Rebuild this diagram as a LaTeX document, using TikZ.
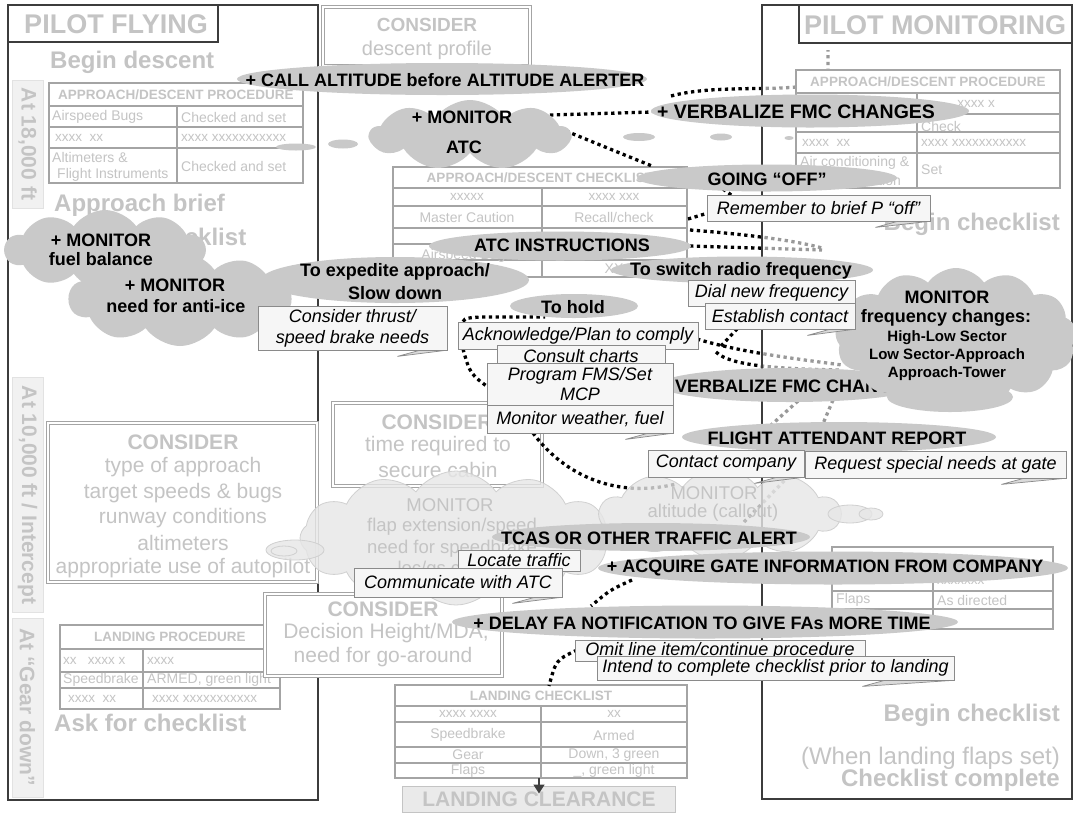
\documentclass[tikz,border=0pt]{standalone}
\usepackage{fontspec}
\setmainfont{Liberation Sans}
\usetikzlibrary{shapes.geometric,shapes.symbols,arrows.meta}
\definecolor{fadec}{HTML}{C4C4C4}
\definecolor{tline}{HTML}{A4A4A4}
\definecolor{bubc}{HTML}{C9C9C9}
\definecolor{notef}{HTML}{F6F6F6}
\definecolor{notec}{HTML}{8A8A8A}
\definecolor{tailf}{HTML}{DADADA}
\definecolor{frm}{HTML}{3C3C3C}
\definecolor{fcloud}{HTML}{E6E6E6}
\definecolor{fcloudl}{HTML}{D0D0D0}
\definecolor{vlab}{HTML}{F1F1F1}
\definecolor{vlabl}{HTML}{E2E2E2}
\definecolor{clearf}{HTML}{EAEAEA}
\newcommand\fs[2]{\fontsize{#1}{#2}\selectfont}
% folded tail under the bottom right corner of a note
\newcommand\ntail[2]{\filldraw[fill=tailf,draw=notec,line width=0.7]
  ([xshift=-2pt]#1.south east) -- ([xshift=-#2pt,yshift=-6pt]#1.south east)
  -- ([xshift=-#2pt+22pt]#1.south east) -- cycle;}
\begin{document}
\begin{tikzpicture}[x=1pt,y=-1pt,
 colframe/.style={draw=frm,line width=1.1},
 ttl/.style={text=fadec,font=\bfseries\fs{27}{30},inner sep=0},
 bigfade/.style={text=fadec,font=\bfseries\fs{24}{28},inner sep=0},
 thinfade/.style={text=fadec,font=\fs{24}{28},inner sep=0},
 dbl/.style={draw=tline,double=white,double distance=2.4pt,line width=0.8},
 tbl/.style={draw=tline,line width=1.2},
 th/.style={text=fadec,font=\bfseries\fs{13.5}{15},inner sep=0},
 td/.style={text=fadec,font=\fs{14}{16},inner sep=0},
 tx/.style={text=fadec,font=\fs{13.5}{15},inner sep=0},
 vbox/.style={fill=vlab,draw=vlabl,line width=1},
 vtext/.style={text=fadec,font=\bfseries\fs{21}{24},rotate=-90,inner sep=0},
 ctitle/.style={text=fadec,font=\bfseries\fs{21}{24},inner sep=0},
 cline/.style={text=fadec,font=\fs{21}{25},inner sep=0},
 conn/.style={draw=black,line width=3.3,dash pattern=on 3.3pt off 3.5pt},
 fcl/.style={cloud,cloud puff arc=110,fill=fcloud,draw=fcloudl,line width=0.8,fill opacity=0.8,inner sep=0},
 ftx/.style={text=fadec,font=\fs{18.5}{22},inner sep=0},
 dcl/.style={cloud,cloud puff arc=110,fill=bubc,inner sep=0},
 bub/.style={ellipse,fill=bubc,inner sep=0},
 bt/.style={text=black,font=\bfseries\fs{18}{23},align=center,inner sep=0},
 st/.style={text=black,font=\bfseries\fs{15}{18},inner sep=0},
 note/.style={draw=notec,line width=0.8,fill=notef,text=black,font=\itshape\fs{18}{21},align=center,inner sep=0},
 puff/.style={ellipse,fill=bubc,inner sep=0},
]
\useasboundingbox (0,0) rectangle (1073,812);
\fill[white] (0,0) rectangle (1073,812);

% ================= PILOT FLYING column =================
\draw[colframe] (8,5) rectangle (318,800);
\draw[colframe,fill=white] (8,5) rectangle (218,42);
\node[ttl] (pf) at (116,24) {PILOT FLYING};
\node[bigfade,anchor=west] (pfdesc) at (50,62) {Begin descent};
\draw[vbox] (12,80) rectangle (43,208);
\node[vtext] (alt18) at (27.5,144) {At 18,000 ft};

% approach/descent procedure (PF)
\draw[tbl,fill=white] (49,83) rectangle (303,183);
\draw[tbl] (49,106) -- (303,106) (49,127) -- (303,127) (49,148) -- (303,148) (177,106) -- (177,183);
\node[th] (lt0) at (176,95) {APPROACH/DESCENT PROCEDURE};
\node[td,anchor=west] (lt1a) at (52,117) {Airspeed Bugs};
\node[td,anchor=west] (lt1b) at (181,117) {Checked and set};
\node[tx,anchor=west] (lt2a) at (55,138) {xxxx\ \ xx};
\node[tx,anchor=west] (lt2b) at (181,138) {xxxx xxxxxxxxxxx};
\node[td,anchor=west] (lt3a) at (52,157) {Altimeters \&};
\node[td,anchor=west] (lt3c) at (57,175) {Flight Instruments};
\node[td,anchor=west] (lt3b) at (181,166) {Checked and set};

\node[bigfade,anchor=west] (pfbrief) at (54,205) {Approach brief};
\node[bigfade,anchor=west] (pfask1) at (54,237) {Ask for checklist};

\draw[vbox] (12,377) rectangle (43,612);
\node[vtext] (alt10) at (27.5,495) {At 10,000 ft / Intercept};
\draw[vbox] (12,618) rectangle (43,797);
\node[vtext] (altgd) at (27.5,707) {At “Gear down”};

\draw[dbl,fill=white] (48,423) rectangle (317,582);
\node[ctitle] (c2t) at (183,442) {CONSIDER};
\node[cline] (c2a) at (183,467) {type of approach};
\node[cline] (c2b) at (183,493) {target speeds \& bugs};
\node[cline] (c2c) at (183,518) {runway conditions};
\node[cline] (c2d) at (183,543) {altimeters};
\node[cline] (c2e) at (183,568) {appropriate use of autopilot};

% landing procedure (PF)
\draw[tbl,fill=white] (60,625) rectangle (280,709);
\draw[tbl] (60,649) -- (280,649) (60,672) -- (280,672) (60,688) -- (280,688) (143,649) -- (143,709);
\node[th] (lp0) at (170,637) {LANDING PROCEDURE};
\node[tx,anchor=west] (lp1a) at (63,661) {xx\ \ \ xxxx x};
\node[tx,anchor=west] (lp1b) at (147,661) {xxxx};
\node[td,anchor=west] (lp2a) at (63,680) {Speedbrake};
\node[td,anchor=west] (lp2b) at (147,680) {ARMED, green light};
\node[tx,anchor=west] (lp3a) at (68,699) {xxxx\ \ xx};
\node[tx,anchor=west] (lp3b) at (152,699) {xxxx xxxxxxxxxxx};
\node[bigfade,anchor=west] (pfask2) at (54,723) {Ask for checklist};

% ================= middle =================
\draw[dbl,fill=white] (323,7) rectangle (530,66);
\node[ctitle,font=\bfseries\fs{19}{22}] (c1t) at (427,25) {CONSIDER};
\node[cline,font=\fs{20}{24}] (c1l) at (427,50) {descent profile};

% approach/descent checklist
\draw[tbl,fill=white] (393,167) rectangle (687,277);
\draw[tbl] (393,188) -- (687,188) (393,206) -- (687,206) (393,228) -- (687,228)
  (393,244) -- (687,244) (393,260) -- (687,260) (542,188) -- (542,277);
\node[th] (mt0) at (540,178) {APPROACH/DESCENT CHECKLIST};
\node[tx] (mt1a) at (467,197) {xxxxx};
\node[tx] (mt1b) at (614,197) {xxxx xxx};
\node[td] (mt2a) at (467,217) {Master Caution};
\node[td] (mt2b) at (614,217) {Recall/check};
\node[td] (mt4a) at (467,256) {Airspeed Bugs};
\node[td] (mt5b) at (614,269) {XX};

\draw[dbl,fill=white] (333,403) rectangle (542,486);
\node[ctitle] (c3t) at (437,422) {CONSIDER};
\node[cline] (c3a) at (438,446) {time required to};
\node[cline] (c3b) at (438,470) {secure cabin};

\draw[dbl,fill=white] (265,594) rectangle (502,676);
\node[ctitle] (c4t) at (383,609) {CONSIDER};
\node[cline] (c4a) at (386,633) {Decision Height/MDA,};
\node[cline] (c4b) at (383,657) {need for go-around};

% landing checklist
\draw[tbl,fill=white] (395,685) rectangle (687,778);
\draw[tbl] (395,706) -- (687,706) (395,722) -- (687,722) (395,747) -- (687,747) (395,763) -- (687,763) (541,706) -- (541,778);
\node[th] (lc0) at (541,696) {LANDING CHECKLIST};
\node[tx] (lc1a) at (468,714) {xxxx xxxx};
\node[tx] (lc1b) at (614,714) {xx};
\node[td] (lc2a) at (468,735) {Speedbrake};
\node[td] (lc2b) at (614,735) {Armed};
\node[td] (lc3a) at (468,755) {Gear};
\node[td] (lc3b) at (614,755) {Down, 3 green};
\node[td] (lc4a) at (468,771) {Flaps};
\node[td] (lc4b) at (614,771) {\_, green light};

\node[fill=clearf,draw=fadec,line width=1,minimum width=273,minimum height=26,inner sep=0,
  text=fadec,font=\bfseries\fs{21}{24}] (lcl) at (539,799) {LANDING CLEARANCE};
\coordinate (lcb) at (539,778);
\draw[-{Triangle[width=11pt,length=9pt]},line width=1.6,draw=black!75] (lcb) -- ([yshift=-8pt]lcl.north);

% ================= dotted connectors =================
\coordinate (a1) at (550,115); \coordinate (a2) at (652,112);
\draw[conn] (a1) -- (a2);
\coordinate (b1) at (566,131); \coordinate (b2) at (652,166);
\draw[conn] (b1) .. controls (605,147) .. (b2);
\coordinate (v1) at (671,96); \coordinate (v2) at (828,70); \coordinate (v3) at (828,50);
\draw[conn] (v1) .. controls (730,80) and (828,100) .. (v2) -- (v3);
\coordinate (g1) at (723,189); \coordinate (g2) at (734,197);
\draw[conn] (g1) -- (g2);
\coordinate (r1) at (688,219); \coordinate (r2) at (708,213);
\draw[conn] (r1) -- (r2);
\coordinate (s1) at (690,230); \coordinate (s2) at (822,248);
\draw[conn] (s1) .. controls (730,233) and (790,239) .. (s2);
\coordinate (s3) at (690,246); \coordinate (s4) at (822,250);
\draw[conn] (s3) -- (s4);
\coordinate (k1) at (697,339); \coordinate (k2) at (842,365);
\draw[conn] (k1) .. controls (740,352) and (790,358) .. (k2);
\coordinate (k3) at (716,352); \coordinate (k4) at (842,370);
\draw[conn] (k3) .. controls (730,366) and (780,369) .. (k4);
\coordinate (k5) at (721,346); \coordinate (k6) at (737,329);
\draw[conn] (k5) -- (k6);
\coordinate (h1) at (461,328); \coordinate (h2) at (482,317); \coordinate (h3) at (545,317);
\draw[conn] (h1) .. controls (463,318) .. (h2) -- (h3);
\coordinate (h4) at (463,349); \coordinate (h5) at (492,390);
\draw[conn] (h4) .. controls (470,374) .. (h5);
\coordinate (m1) at (533,433); \coordinate (m2) at (676,484);
\draw[conn] (m1) .. controls (560,470) and (610,500) .. (m2);
\coordinate (m3) at (744,522); \coordinate (m4) at (787,478);
\draw[conn] (m3) -- (m4);
\coordinate (f1) at (798,401); \coordinate (f2) at (770,426);
\draw[conn] (f1) -- (f2);
\coordinate (f3) at (833,400); \coordinate (f4) at (822,426);
\draw[conn] (f3) -- (f4);
\coordinate (q1) at (632,580); \coordinate (q2) at (591,606);
\draw[conn] (q1) .. controls (610,590) .. (q2);
\coordinate (o1) at (577,650); \coordinate (o2) at (549,686);
\draw[conn] (o1) .. controls (556,660) .. (o2);

% ================= PILOT MONITORING column =================
\fill[white,opacity=0.6] (763,6) rectangle (1071,798);
\draw[colframe] (762,5) rectangle (1072,799);
\draw[colframe,fill=white] (799,5) rectangle (1072,43);
\node[ttl] (pm) at (935,25) {PILOT MONITORING};

\draw[tbl,fill=white] (796,70) rectangle (1060,188);
\draw[tbl] (796,93) -- (1060,93) (796,114) -- (1060,114) (796,132) -- (1060,132) (796,153) -- (1060,153) (917,93) -- (917,188);
\node[th] (rt0) at (928,82) {APPROACH/DESCENT PROCEDURE};
\node[tx,anchor=east] (rt1b) at (995,104) {xxxx x};
\node[td,anchor=west] (rt2b) at (921,126) {Check};
\node[tx,anchor=west] (rt3a) at (802,143) {xxxx\ \ xx};
\node[tx,anchor=west] (rt3b) at (921,143) {xxxx xxxxxxxxxxx};
\node[td,anchor=west] (rt4a) at (800,163) {Air conditioning \&};
\node[td,anchor=west] (rt4c) at (812,180) {Pressurization};
\node[td,anchor=west] (rt4b) at (921,170) {Set};
\node[bigfade,anchor=east] (pmbeg1) at (1060,224) {Begin checklist};

\draw[tbl,fill=white] (832,547) rectangle (1053,629);
\draw[tbl] (832,570) -- (1053,570) (832,591) -- (1053,591) (832,609) -- (1053,609) (933,570) -- (933,629);
\node[tx,anchor=west] (rl1a) at (836,581) {xxxxxxx};
\node[tx,anchor=west] (rl1b) at (937,581) {xxxxxxx};
\node[td,anchor=west] (rl2a) at (836,600) {Flaps};
\node[td,anchor=west] (rl2b) at (937,600) {As directed};
\node[bigfade,anchor=east] (pmbeg2) at (1060,715) {Begin checklist};
\node[thinfade,anchor=east] (pmwhen) at (1060,758) {(When landing flaps set)};
\node[bigfade,anchor=east] (pmdone) at (1060,780) {Checklist complete};

% ================= faded monitor clouds =================
\node[fcl,cloud puffs=12,aspect=2.3,minimum width=312,minimum height=134] (fca) at (456,538) {};
\node[ellipse,fill=fcloud,draw=fcloudl,line width=0.8,fill opacity=0.8,minimum width=58,minimum height=20,inner sep=0] (fca1) at (295,550) {};
\node[ellipse,draw=fcloudl,line width=0.8,minimum width=26,minimum height=10,inner sep=0] (fca2) at (284,551) {};
\node[ftx] (fcat1) at (450,505) {MONITOR};
\node[ftx] (fcat2) at (452,527) {flap extension/speed};
\node[ftx] (fcat3) at (452,549) {need for speedbrake};
\node[ftx] (fcat4) at (452,570) {loc/gs control};

\node[fcl,cloud puffs=10,aspect=2.6,minimum width=240,minimum height=92] (fcb) at (720,514) {};
\node[ellipse,fill=fcloud,draw=fcloudl,line width=0.8,fill opacity=0.8,minimum width=44,minimum height=18,inner sep=0] (fcb1) at (850,514) {};
\node[ellipse,fill=fcloud,draw=fcloudl,line width=0.8,fill opacity=0.8,minimum width=24,minimum height=12,inner sep=0] (fcb2) at (871,514) {};
\node[ftx] (fcbt1) at (714,493) {MONITOR};
\node[ftx] (fcbt2) at (713,513) {altitude (callout)};

% ================= thought puffs =================
\node[puff,minimum width=40,minimum height=7] (pz1) at (296,147) {};
\node[puff,minimum width=30,minimum height=9] (pz2) at (343,144) {};
\node[puff,minimum width=32,minimum height=8] (pz3) at (639,137) {};
\node[puff,minimum width=22,minimum height=7] (pz4) at (721,137) {};
\node[puff,minimum width=9,minimum height=4] (pz5) at (789,138) {};

% ================= monitor clouds =================
\node[dcl,cloud puffs=10,aspect=2.4,minimum width=200,minimum height=80] (cfuel) at (105,250) {};
\node[dcl,cloud puffs=10,aspect=2.3,minimum width=222,minimum height=94] (cice) at (180,299) {};
\node[dcl,cloud puffs=9,aspect=2.8,minimum width=200,minimum height=70] (catc) at (470,135) {};
\node[bt] (cfuelA) at (101,240) {+ MONITOR};
\node[bt] (cfuelB) at (101,259) {fuel balance};
\node[bt] (ciceA) at (175,285) {+ MONITOR};
\node[bt] (ciceB) at (176,306) {need for anti-ice};
\node[bt] (catcA) at (462,117) {+ MONITOR};
\node[bt] (catcB) at (464,147) {ATC};

% ================= action bubbles =================
\node[bub,minimum width=410,minimum height=32] (call) at (442,79) {};
\node[bt] (callT) at (445,80) {+ CALL ALTITUDE before ALTITUDE ALERTER};
\node[bub,minimum width=318,minimum height=33] (verb1) at (810,111) {};
\node[bt,font=\bfseries\fs{19.5}{23}] (verb1T) at (796,112) {+ VERBALIZE FMC CHANGES};
\node[bub,minimum width=260,minimum height=27] (goff) at (767,178) {};
\node[bt] (goffT) at (767,179) {GOING “OFF”};
\node[bub,minimum width=262,minimum height=29] (atci) at (560,246) {};
\node[bt] (atciT) at (562,245) {ATC INSTRUCTIONS};
\node[bub,minimum width=268,minimum height=46] (exp) at (395,280) {};
\node[bt] (expT) at (395,282) {To expedite approach/\\Slow down};
\node[bub,minimum width=262,minimum height=27] (sw) at (742,270) {};
\node[bt] (swT) at (741,271) {To switch radio frequency};
\node[bub,minimum width=128,minimum height=24] (hold) at (574,306) {};
\node[bt] (holdT) at (573,307) {To hold};
\node[bub,minimum width=262,minimum height=34] (verb2) at (790,385) {};
\node[bt,anchor=west] (verb2T) at (675,386) {VERBALIZE FMC CHANGES};
\node[bub,minimum width=314,minimum height=30] (fa) at (839,437) {};
\node[bt] (faT) at (837,438) {FLIGHT ATTENDANT REPORT};
\node[bub,minimum width=318,minimum height=28] (tcas) at (651,537) {};
\node[bt] (tcasT) at (649,538) {TCAS OR OTHER TRAFFIC ALERT};
\node[bub,minimum width=470,minimum height=33] (acq) at (833,568) {};
\node[bt] (acqT) at (825,568) {+ ACQUIRE GATE INFORMATION FROM COMPANY};
\node[bub,minimum width=506,minimum height=33] (delay) at (705,622) {};
\node[bt] (delayT) at (702,623) {+ DELAY FA NOTIFICATION TO GIVE FAs MORE TIME};

% frequency-change cloud
\node[dcl,cloud puffs=13,aspect=1.7,minimum width=242,minimum height=140] (cfreq) at (956,338) {};
\node[puff,minimum width=126,minimum height=30] (cfreq2) at (950,397) {};
\node[bt] (cfreqA) at (947,297) {MONITOR};
\node[bt] (cfreqB) at (946,318) {frequency changes:};
\node[st] (cfreqC) at (947,338) {High-Low Sector};
\node[st] (cfreqD) at (947,356) {Low Sector-Approach};
\node[st] (cfreqE) at (947,374) {Approach-Tower};

% ================= task notes =================
\node[note,minimum width=223,minimum height=26] (rem) at (818.5,208) {Remember to brief P “off”};
\ntail{rem}{55}
\node[note,minimum width=189,minimum height=44] (thr) at (352.5,328) {Consider thrust/\\speed brake needs};
\ntail{thr}{50}
\node[note,minimum width=240,minimum height=27] (ack) at (578,335.5) {Acknowledge/Plan to comply};
\node[note,minimum width=168,minimum height=22] (cc) at (581,356) {Consult charts};
\node[note,minimum width=186,minimum height=42,font=\itshape\fs{18}{20}] (fms) at (580,384) {Program FMS/Set\\MCP};
\node[note,minimum width=186,minimum height=28] (mw) at (580,419) {Monitor weather, fuel};
\ntail{mw}{48}
\node[note,minimum width=167,minimum height=26] (dial) at (771.5,293) {Dial new frequency};
\node[note,minimum width=150,minimum height=26] (est) at (780,316) {Establish contact};
\ntail{est}{48}
\node[note,minimum width=156,minimum height=27] (cco) at (726,463.5) {Contact company};
\ntail{cco}{50}
\node[note,minimum width=261,minimum height=27] (req) at (935.5,464.5) {Request special needs at gate};
\ntail{req}{65}
\node[note,minimum width=122,minimum height=21] (loc) at (519,560.5) {Locate traffic};
\node[note,minimum width=208,minimum height=29] (com) at (458,582.5) {Communicate with ATC};
\ntail{com}{50}
\node[note,minimum width=290,minimum height=21] (omit) at (720,650.5) {Omit line item/continue procedure};
\node[note,minimum width=357,minimum height=24] (intend) at (775.5,668) {Intend to complete checklist prior to landing};
\ntail{intend}{92}
\end{tikzpicture}
\end{document}
